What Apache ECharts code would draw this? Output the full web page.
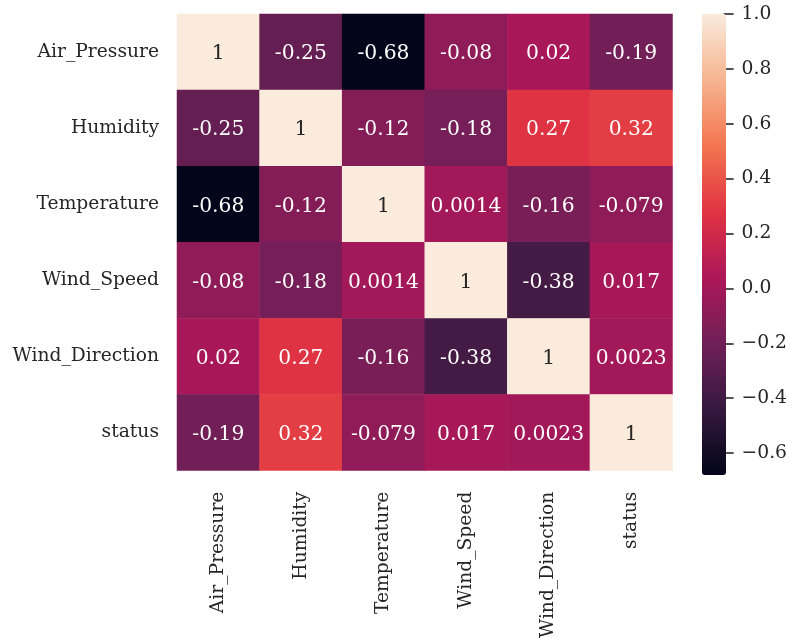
<!DOCTYPE html>
<html>
<head>
<meta charset="utf-8">
<script src="https://cdn.jsdelivr.net/npm/echarts@6/dist/echarts.min.js"></script>
<style>
  html, body { margin: 0; padding: 0; background: #ffffff; }
  #chart { width: 790px; height: 641px; }
</style>
</head>
<body>
<div id="chart"></div>
<script>
// Correlation matrix of the weather features
const variables = ['Air_Pressure', 'Humidity', 'Temperature', 'Wind_Speed', 'Wind_Direction', 'status'];

const rowAirPressure   = [1, -0.25, -0.68, -0.08, 0.02, -0.19];
const rowHumidity      = [-0.25, 1, -0.12, -0.18, 0.27, 0.32];
const rowTemperature   = [-0.68, -0.12, 1, 0.0014, -0.16, -0.079];
const rowWindSpeed     = [-0.08, -0.18, 0.0014, 1, -0.38, 0.017];
const rowWindDirection = [0.02, 0.27, -0.16, -0.38, 1, 0.0023];
const rowStatus        = [-0.19, 0.32, -0.079, 0.017, 0.0023, 1];

const rows = [rowAirPressure, rowHumidity, rowTemperature, rowWindSpeed, rowWindDirection, rowStatus];

// Colour scale range and colourbar ticks
const scaleMin = -0.68;
const scaleMax = 1.0;
const tickMin = -0.6;
const tickStep = 0.2;

// "rocket" palette, evenly spaced stops
const rocket = ['#03051A', '#35193E', '#701F57', '#AD1759', '#E13342', '#F37651', '#F6B48F', '#FAEBDD'];

const cells = [];
rows.forEach((row, r) => {
  row.forEach((v, c) => cells.push([c, r, v]));
});

const fmt2g = v => String(Number(v.toPrecision(2)));
const textColor = '#262626';
const fontFamily = 'DejaVu Serif';

// Heatmap frame and colourbar geometry
const heatTop = 14, heatHeight = 461;
const barLeft = 702, barWidth = 24;
// the colourbar axis covers only the ticked part of the scale
const tickAxisHeight = heatHeight * (scaleMax - tickMin) / (scaleMax - scaleMin);

const chart = echarts.init(document.getElementById('chart'), null, { renderer: 'canvas' });

chart.setOption({
  backgroundColor: '#ffffff',
  animation: false,
  textStyle: { fontFamily: fontFamily, color: textColor },
  grid: [
    { left: 177, top: heatTop, width: 495.5, height: heatHeight },
    { left: barLeft, top: heatTop, width: barWidth, height: tickAxisHeight }
  ],
  xAxis: [
    {
      type: 'category', gridIndex: 0, data: variables, position: 'bottom',
      axisLine: { show: false }, axisTick: { show: false }, splitLine: { show: false },
      axisLabel: { rotate: 90, margin: 21, fontSize: 18.7, color: textColor, fontFamily: fontFamily }
    },
    {
      type: 'category', gridIndex: 1, show: false, data: ['']
    }
  ],
  yAxis: [
    {
      type: 'category', gridIndex: 0, data: variables, inverse: true,
      axisLine: { show: false }, axisTick: { show: false }, splitLine: { show: false },
      axisLabel: {
        margin: 18, fontSize: 18.7, color: textColor, fontFamily: fontFamily,
        padding: [4, 0, 0, 0]
      }
    },
    {
      type: 'value', gridIndex: 1, position: 'right',
      min: tickMin, max: scaleMax, interval: tickStep,
      axisLine: { show: false, onZero: false }, splitLine: { show: false },
      axisTick: { show: true, inside: false, length: 10, lineStyle: { color: textColor, width: 1.6 } },
      axisLabel: {
        margin: 18, fontSize: 18.7, color: textColor, fontFamily: fontFamily,
        padding: [3, 0, 0, 0],
        formatter: v => (v < -1e-9 ? '\u2212' : '') + Math.abs(v).toFixed(1)
      }
    }
  ],
  visualMap: {
    type: 'continuous',
    min: scaleMin, max: scaleMax,
    calculable: false,
    orient: 'vertical',
    left: barLeft, top: heatTop,
    itemWidth: barWidth, itemHeight: heatHeight,
    padding: 0,
    text: null,
    showLabel: false,
    seriesIndex: 0,
    inRange: { color: rocket }
  },
  series: [
    {
      type: 'heatmap',
      xAxisIndex: 0, yAxisIndex: 0,
      data: cells.map(d => ({
        value: d,
        // dark text on light cells, white on dark ones
        label: { color: d[2] > 0.6 ? textColor : '#ffffff' }
      })),
      label: {
        show: true,
        fontSize: 20.3,
        fontFamily: fontFamily,
        offset: [0, 2],
        formatter: p => fmt2g(p.value[2])
      },
      itemStyle: { borderWidth: 0 },
      emphasis: { disabled: true }
    }
  ]
});
</script>
</body>
</html>
